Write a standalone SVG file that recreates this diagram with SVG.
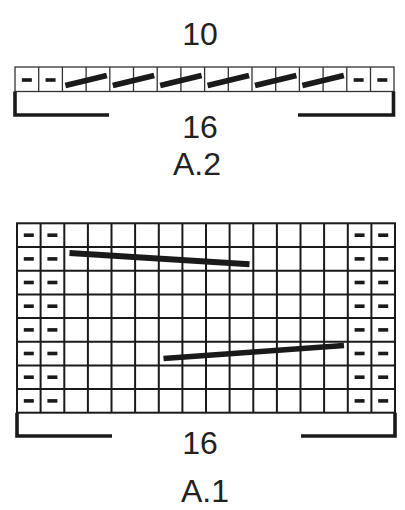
<svg xmlns="http://www.w3.org/2000/svg" xmlns:xlink="http://www.w3.org/1999/xlink" width="405" height="510" viewBox="0 0 405 510">
<style>
.lbl{font-family:"Liberation Sans",Arial,sans-serif;font-size:32px;fill:#222;text-anchor:middle}
.g2{fill:#fff;stroke:#333;stroke-width:1.3}
.g1{fill:#fff;stroke:#1a1a1a;stroke-width:2}
.br{fill:none;stroke:#1a1a1a;stroke-width:3.6}
.cab{stroke:#1a1a1a;stroke-linecap:butt}
</style>
<defs>
<rect id="d" x="-5" y="-1.8" width="10" height="3.6" fill="#1a1a1a"/>
</defs>
<rect width="405" height="510" fill="#fff"/>
<g id="A2">
<g id="A2-grid" class="g2">
<rect x="15" y="67" width="379" height="24.5"/>
<path d="M38.7,67V91.5M62.4,67V91.5M86.1,67V91.5M109.8,67V91.5M133.5,67V91.5M157.2,67V91.5M180.9,67V91.5M204.6,67V91.5M228.3,67V91.5M252,67V91.5M275.7,67V91.5M299.4,67V91.5M323.1,67V91.5M346.8,67V91.5M370.5,67V91.5"/>
</g>
<g id="A2-purl">
<use xlink:href="#d" x="26.85" y="80"/>
<use xlink:href="#d" x="50.55" y="80"/>
<use xlink:href="#d" x="358.65" y="80"/>
<use xlink:href="#d" x="382.35" y="80"/>
</g>
<g id="A2-cables" class="cab" stroke-width="5.8">
<line x1="65.4" y1="85.5" x2="106.8" y2="75.5"/>
<line x1="112.8" y1="85.5" x2="154.2" y2="75.5"/>
<line x1="160.2" y1="85.5" x2="201.6" y2="75.5"/>
<line x1="207.6" y1="85.5" x2="249" y2="75.5"/>
<line x1="255" y1="85.5" x2="296.4" y2="75.5"/>
<line x1="302.4" y1="85.5" x2="343.8" y2="75.5"/>
</g>
<g id="A2-brackets" class="br">
<path d="M15,91.5V115H109"/>
<path d="M393.5,91.5V115H298"/>
</g>
<text class="lbl" x="200" y="45">10</text>
<text class="lbl" x="200" y="138">16</text>
<text class="lbl" x="197" y="175">A.2</text>
</g>
<g id="A1">
<g id="A1-grid" class="g1">
<rect x="17" y="223.3" width="378" height="189.4"/>
<path d="M40.6,223.3V412.7M64.3,223.3V412.7M87.9,223.3V412.7M111.5,223.3V412.7M135.1,223.3V412.7M158.8,223.3V412.7M182.4,223.3V412.7M206,223.3V412.7M229.6,223.3V412.7M253.3,223.3V412.7M276.9,223.3V412.7M300.5,223.3V412.7M324.1,223.3V412.7M347.8,223.3V412.7M371.4,223.3V412.7"/>
<path d="M17,247H395M17,270.7H395M17,294.4H395M17,318H395M17,341.7H395M17,365.4H395M17,389H395"/>
</g>
<g id="A1-purl">
<use xlink:href="#d" x="28.8" y="235.2"/><use xlink:href="#d" x="52.4" y="235.2"/><use xlink:href="#d" x="359.6" y="235.2"/><use xlink:href="#d" x="383.2" y="235.2"/>
<use xlink:href="#d" x="28.8" y="258.9"/><use xlink:href="#d" x="52.4" y="258.9"/><use xlink:href="#d" x="359.6" y="258.9"/><use xlink:href="#d" x="383.2" y="258.9"/>
<use xlink:href="#d" x="28.8" y="282.5"/><use xlink:href="#d" x="52.4" y="282.5"/><use xlink:href="#d" x="359.6" y="282.5"/><use xlink:href="#d" x="383.2" y="282.5"/>
<use xlink:href="#d" x="28.8" y="306.2"/><use xlink:href="#d" x="52.4" y="306.2"/><use xlink:href="#d" x="359.6" y="306.2"/><use xlink:href="#d" x="383.2" y="306.2"/>
<use xlink:href="#d" x="28.8" y="329.9"/><use xlink:href="#d" x="52.4" y="329.9"/><use xlink:href="#d" x="359.6" y="329.9"/><use xlink:href="#d" x="383.2" y="329.9"/>
<use xlink:href="#d" x="28.8" y="353.5"/><use xlink:href="#d" x="52.4" y="353.5"/><use xlink:href="#d" x="359.6" y="353.5"/><use xlink:href="#d" x="383.2" y="353.5"/>
<use xlink:href="#d" x="28.8" y="377.2"/><use xlink:href="#d" x="52.4" y="377.2"/><use xlink:href="#d" x="359.6" y="377.2"/><use xlink:href="#d" x="383.2" y="377.2"/>
<use xlink:href="#d" x="28.8" y="400.9"/><use xlink:href="#d" x="52.4" y="400.9"/><use xlink:href="#d" x="359.6" y="400.9"/><use xlink:href="#d" x="383.2" y="400.9"/>
</g>
<g id="A1-cables" class="cab">
<line x1="69.5" y1="253" x2="249.5" y2="264.2" stroke-width="6"/>
<line x1="163.5" y1="358.5" x2="344" y2="345.5" stroke-width="5.5"/>
</g>
<g id="A1-brackets" class="br">
<path d="M17,412.7V436H112"/>
<path d="M395,412.7V436H301"/>
</g>
<text class="lbl" x="200" y="454">16</text>
<text class="lbl" x="205" y="501.5">A.1</text>
</g>
</svg>
